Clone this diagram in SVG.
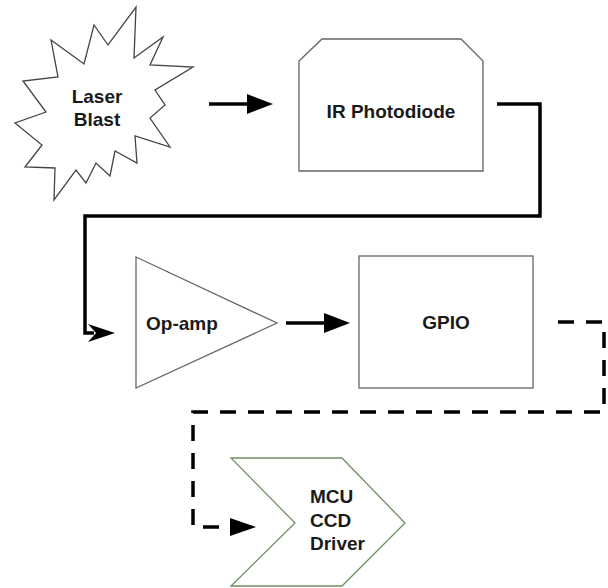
<svg xmlns="http://www.w3.org/2000/svg" width="608" height="588" viewBox="0 0 608 588">
<defs>
<style>
.lbl{font-family:"Liberation Sans",Arial,sans-serif;font-weight:bold;font-size:19px;fill:#1a1a1a}
.shape{fill:#fff;stroke:#666;stroke-width:1.3}
.conn{fill:none;stroke:#000;stroke-width:3.5}
.dash{stroke-dasharray:16 12}
</style>
<marker id="ah" markerUnits="userSpaceOnUse" markerWidth="28" markerHeight="22" refX="4" refY="10" orient="auto">
<path d="M0,0 L26,10 L0,20 z" fill="#000"/>
</marker>
<marker id="ahs" markerUnits="userSpaceOnUse" markerWidth="28" markerHeight="22" refX="4" refY="9" orient="auto">
<path d="M0,0 L26,9 L0,18 z" fill="#000"/>
</marker>
</defs>
<rect width="608" height="588" fill="#fff"/>
<g id="laser-blast">
<polygon class="shape" style="stroke:#444" points="136,7 134,58 163,37 150,65 193,67 155,90 165,105 150,118 170,147 135,136 137,163 115,151 110,176 96,163 86,183 76,170 54,200 55,168 25,167 42,145 15,123 46,112 23,81 58,77 51,40 84,64 94,25 108,45"/>
<text class="lbl" x="97" y="103" text-anchor="middle">Laser</text>
<text class="lbl" x="97" y="126" text-anchor="middle">Blast</text>
</g>
<g id="ir-photodiode">
<polygon class="shape" points="299,61 322,39 461,39 483,61 483,171 299,171"/>
<text class="lbl" x="391" y="118" text-anchor="middle">IR Photodiode</text>
</g>
<g id="op-amp">
<polygon class="shape" points="136,257 277,323 136,388"/>
<text class="lbl" x="146" y="330">Op-amp</text>
</g>
<g id="gpio">
<rect class="shape" x="359" y="256" width="174" height="132"/>
<text class="lbl" x="446" y="329" text-anchor="middle">GPIO</text>
</g>
<g id="mcu-ccd-driver">
<polygon class="shape" style="stroke:#6f8f61" points="231,458 342,458 405,523 342,586 231,586 295,523"/>
<text class="lbl" x="310" y="503">MCU</text>
<text class="lbl" x="310" y="527">CCD</text>
<text class="lbl" x="310" y="550">Driver</text>
</g>
<g id="connectors">
<path class="conn" d="M209,104 H251" marker-end="url(#ah)"/>
<path class="conn" d="M497,104 H540 V216 H85 V333 H94"/>
<polygon points="88,324 115,333 88,342 96,333" fill="#000"/>
<path class="conn" d="M286,323 H328" marker-end="url(#ah)"/>
<path class="conn dash" d="M558,322 H604 V412 H193 V527 H234" marker-end="url(#ahs)"/>
</g>
</svg>
